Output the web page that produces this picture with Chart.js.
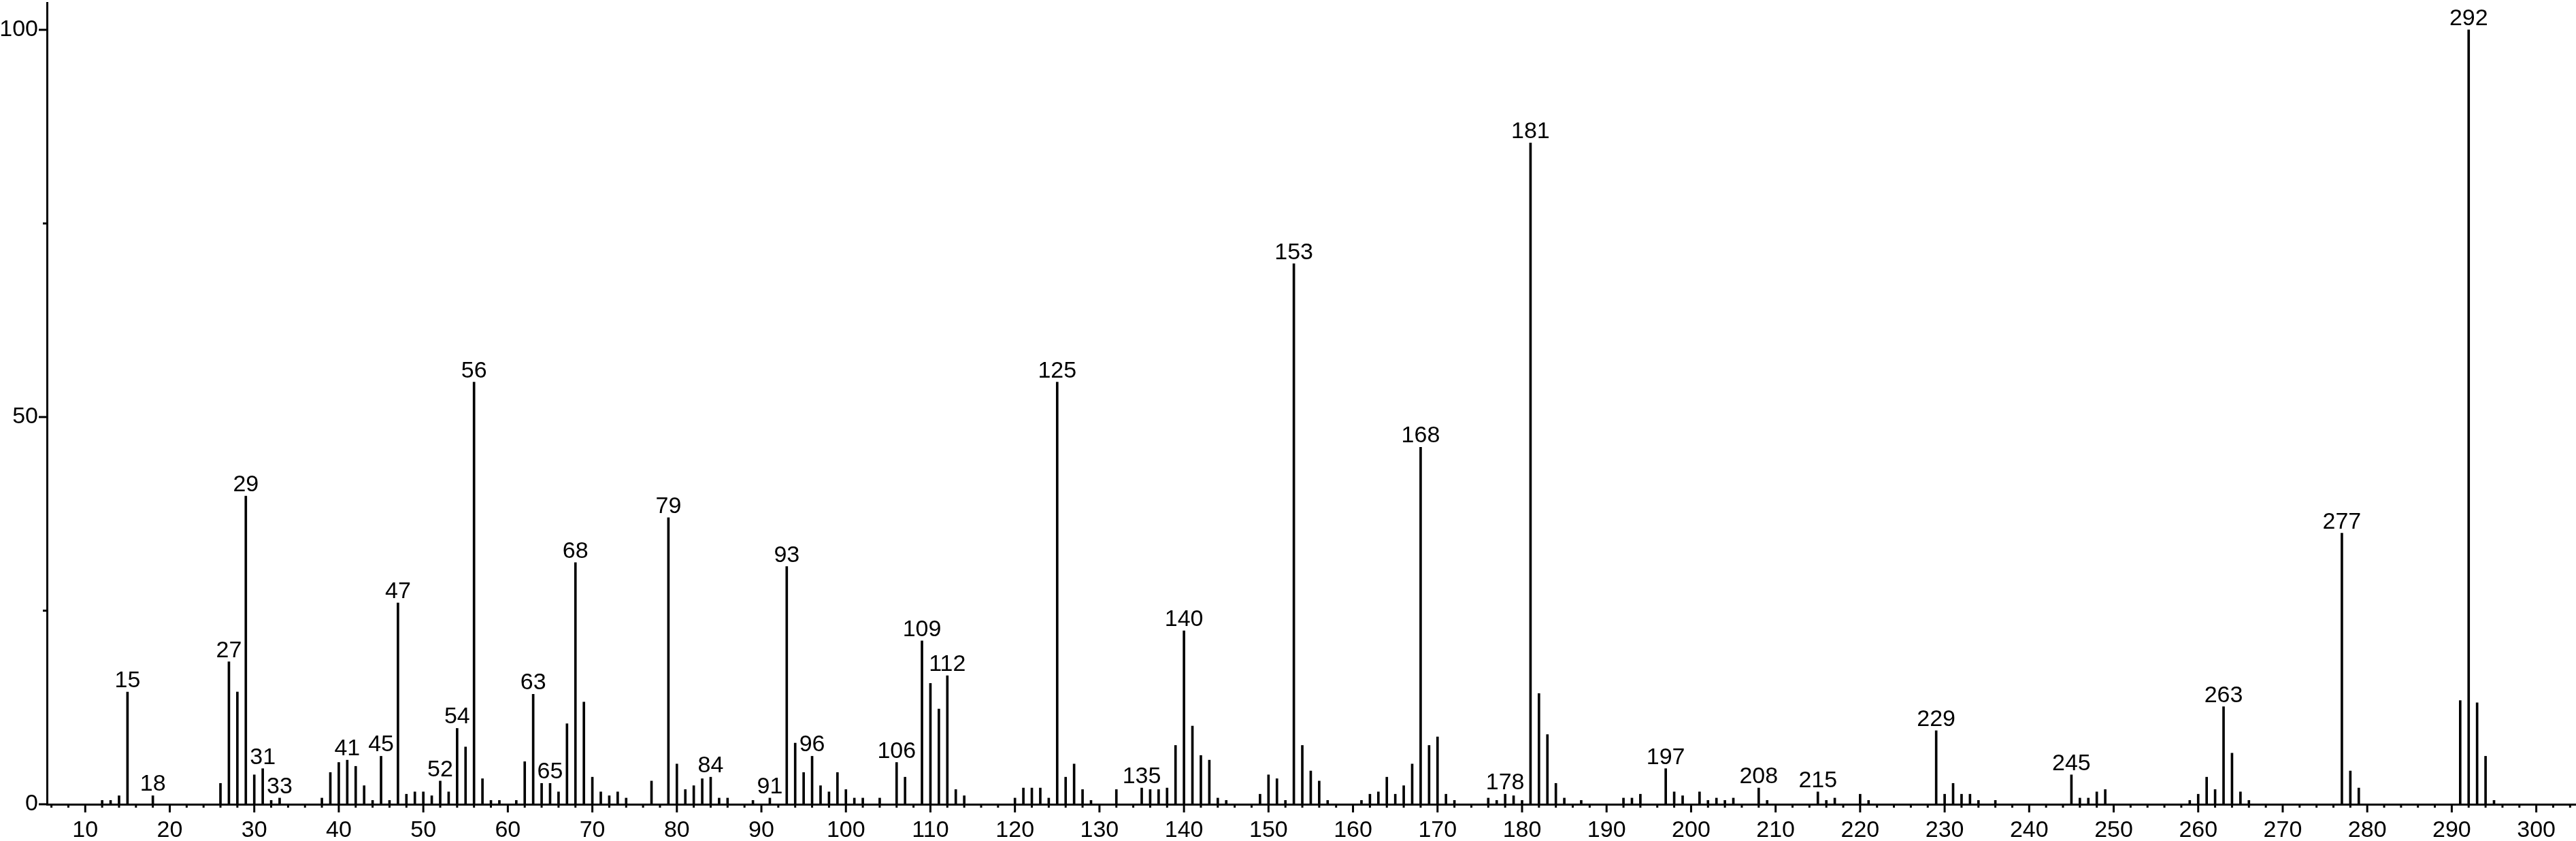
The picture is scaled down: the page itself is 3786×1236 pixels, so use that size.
<!DOCTYPE html>
<html>
<head>
<meta charset="utf-8">
<script src="https://cdn.jsdelivr.net/npm/chart.js@4.4.0/dist/chart.umd.min.js"></script>
<style>
  html, body { margin: 0; padding: 0; background: #fff; }
  #wrap { width: 3786px; height: 1236px; }
</style>
</head>
<body>
<div id="wrap"><canvas id="chart"></canvas></div>
<script>
// m/z of every peak and its relative intensity (%)
const mzValues = [
  12, 13, 14, 15, 18, 26, 27, 28, 29, 30, 31, 32, 33, 38, 39, 40, 41, 42, 43, 44,
  45, 46, 47, 48, 49, 50, 51, 52, 53, 54, 55, 56, 57, 58, 59, 61, 62, 63, 64, 65,
  66, 67, 68, 69, 70, 71, 72, 73, 74, 77, 79, 80, 81, 82, 83, 84, 85, 86, 89, 91,
  93, 94, 95, 96, 97, 98, 99, 100, 101, 102, 104, 106, 107, 109, 110, 111, 112, 113, 114, 120,
  121, 122, 123, 124, 125, 126, 127, 128, 129, 132, 135, 136, 137, 138, 139, 140, 141, 142, 143, 144,
  145, 149, 150, 151, 152, 153, 154, 155, 156, 157, 161, 162, 163, 164, 165, 166, 167, 168, 169, 170,
  171, 172, 176, 177, 178, 179, 180, 181, 182, 183, 184, 185, 187, 192, 193, 194, 197, 198, 199, 201,
  202, 203, 204, 205, 208, 209, 215, 216, 217, 220, 221, 229, 230, 231, 232, 233, 234, 236, 245, 246,
  247, 248, 249, 259, 260, 261, 262, 263, 264, 265, 266, 277, 278, 279, 291, 292, 293, 294, 295
];
const intensities = [
  0.5, 0.5, 1.1, 14.5, 1.1, 2.7, 18.4, 14.5, 39.8, 3.8, 4.6, 0.5, 0.8, 0.8, 4.1, 5.4, 5.7, 4.9, 2.4, 0.5,
  6.2, 0.5, 26.0, 1.3, 1.6, 1.6, 1.1, 3.0, 1.6, 9.8, 7.4, 54.5, 3.3, 0.5, 0.5, 0.5, 5.5, 14.2, 2.7, 2.7,
  1.6, 10.4, 31.2, 13.2, 3.5, 1.6, 1.1, 1.6, 0.8, 3.0, 37.0, 5.2, 1.9, 2.4, 3.3, 3.5, 0.8, 0.8, 0.5, 0.8,
  30.7, 7.9, 4.1, 6.2, 2.4, 1.6, 4.1, 1.9, 0.8, 0.8, 0.8, 5.4, 3.5, 21.1, 15.6, 12.3, 16.6, 1.9, 1.1, 0.8,
  2.1, 2.1, 2.1, 0.8, 54.5, 3.5, 5.2, 1.9, 0.5, 1.9, 2.1, 1.9, 1.9, 2.1, 7.6, 22.4, 10.1, 6.3, 5.7, 0.8,
  0.5, 1.3, 3.8, 3.3, 0.5, 69.8, 7.6, 4.3, 3.0, 0.5, 0.5, 1.3, 1.6, 3.5, 1.3, 2.4, 5.2, 46.1, 7.6, 8.7,
  1.3, 0.5, 0.8, 0.5, 1.3, 1.1, 0.5, 85.4, 14.3, 9.0, 2.7, 0.8, 0.5, 0.8, 0.8, 1.3, 4.6, 1.6, 1.1, 1.6,
  0.5, 0.8, 0.5, 0.8, 2.1, 0.5, 1.6, 0.5, 0.8, 1.3, 0.5, 9.5, 1.3, 2.7, 1.3, 1.3, 0.5, 0.5, 3.8, 0.8,
  0.8, 1.6, 1.9, 0.5, 1.3, 3.5, 1.9, 12.6, 6.6, 1.6, 0.5, 35.0, 4.3, 2.1, 13.4, 100, 13.1, 6.2, 0.5
];
// peaks that carry a number above them
const labeledPeaks = [
  15, 18, 27, 29, 31, 33, 41, 45, 47, 52, 54, 56, 63, 65, 68, 79, 84, 91, 93, 96,
  106, 109, 112, 125, 135, 140, 153, 168, 178, 181, 197, 208, 215, 229, 245, 263, 277, 292
];

const xTickLabels = [10, 20, 30, 40, 50, 60, 70, 80, 90, 100, 110, 120, 130, 140, 150,
  160, 170, 180, 190, 200, 210, 220, 230, 240, 250, 260, 270, 280, 290, 300];
const yTickLabels = [0, 50, 100];
const yMinorTicks = [25, 75];

const xMin = 5.47, xMax = 304.7;
const yMax = 103.5;
const FONT = '"Liberation Sans", Arial, sans-serif';
const FONT_SIZE = 34;

// short ticks every 2 units, long ticks at labelled values, peak numbers
const spectrumMarks = {
  id: 'spectrumMarks',
  afterDraw(chart) {
    const ctx = chart.ctx;
    const xs = chart.scales.x, ys = chart.scales.y;
    const base = ys.getPixelForValue(0);
    const left = xs.left;
    ctx.save();
    ctx.strokeStyle = '#000';
    ctx.lineWidth = 3;
    ctx.lineCap = 'butt';

    for (let v = 6; v <= 304; v += 2) {
      const px = xs.getPixelForValue(v);
      const len = v % 10 === 0 ? 12 : 5;
      ctx.beginPath();
      ctx.moveTo(px, base);
      ctx.lineTo(px, base + len);
      ctx.stroke();
    }
    yTickLabels.forEach(v => {
      const py = ys.getPixelForValue(v);
      ctx.beginPath();
      ctx.moveTo(left, py);
      ctx.lineTo(left - 12, py);
      ctx.stroke();
    });
    yMinorTicks.forEach(v => {
      const py = ys.getPixelForValue(v);
      ctx.beginPath();
      ctx.moveTo(left, py);
      ctx.lineTo(left - 6, py);
      ctx.stroke();
    });

    ctx.fillStyle = '#000';
    ctx.font = FONT_SIZE + 'px ' + FONT;
    ctx.textAlign = 'center';
    ctx.textBaseline = 'alphabetic';
    labeledPeaks.forEach(m => {
      const i = mzValues.indexOf(m);
      const px = xs.getPixelForValue(m);
      const py = ys.getPixelForValue(intensities[i]);
      ctx.fillText(String(m), px, py - 7);
    });
    ctx.restore();
  }
};

const ctx = document.getElementById('chart').getContext('2d');
const chart = new Chart(ctx, {
  type: 'bar',
  data: {
    datasets: [{
      data: mzValues.map((m, i) => ({ x: m, y: intensities[i] })),
      backgroundColor: '#000',
      borderWidth: 0,
      barThickness: 3
    }]
  },
  options: {
    responsive: true,
    maintainAspectRatio: false,
    animation: false,
    layout: { padding: { top: 4, left: 0, right: 0, bottom: 0 } },
    plugins: { legend: { display: false }, tooltip: { enabled: false } },
    scales: {
      x: {
        type: 'linear',
        min: xMin,
        max: xMax,
        offset: false,
        grid: { display: false, drawTicks: false, offset: false },
        border: { display: true, color: '#000', width: 3 },
        ticks: {
          autoSkip: false,
          maxRotation: 0,
          padding: 18,
          color: '#000',
          font: { family: FONT, size: FONT_SIZE }
        },
        afterBuildTicks: s => { s.ticks = xTickLabels.map(v => ({ value: v })); },
        afterFit: s => { s.height = 54; s.paddingLeft = 0; s.paddingRight = 0; }
      },
      y: {
        min: 0,
        max: yMax,
        grid: { display: false, drawTicks: false },
        border: { display: true, color: '#000', width: 3 },
        ticks: {
          padding: 13,
          color: '#000',
          font: { family: FONT, size: FONT_SIZE }
        },
        afterBuildTicks: s => { s.ticks = yTickLabels.map(v => ({ value: v })); },
        afterFit: s => { s.width = 69; s.paddingTop = 0; s.paddingBottom = 0; }
      }
    }
  },
  plugins: [spectrumMarks]
});
</script>
</body>
</html>
